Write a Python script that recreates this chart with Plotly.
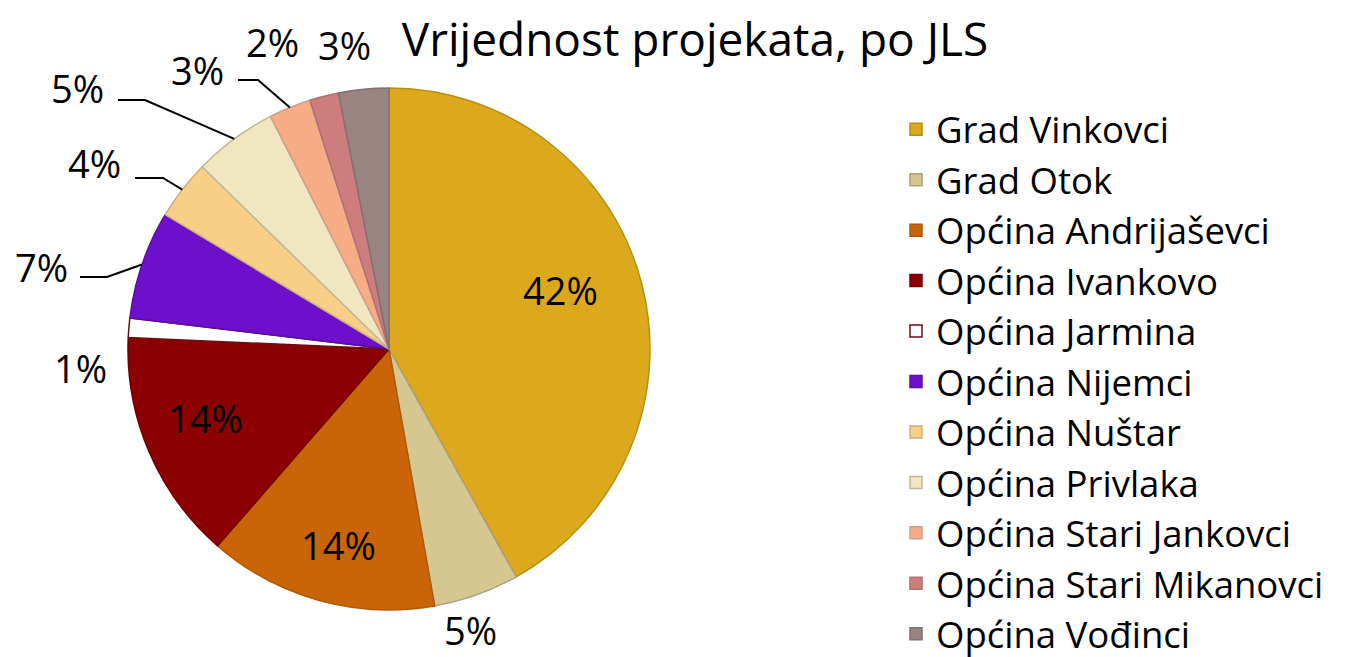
import math
import plotly.graph_objects as go

# ---- data ----
categories = ["Grad Vinkovci", "Grad Otok", "Općina Andrijaševci", "Općina Ivankovo",
              "Općina Jarmina", "Općina Nijemci", "Općina Nuštar", "Općina Privlaka",
              "Općina Stari Jankovci", "Općina Stari Mikanovci", "Općina Vođinci"]
values = [41.9, 5.3, 14.2, 14.3, 1.2, 6.7, 3.7, 5.2, 2.6, 1.8, 3.1]
colors = ["#DDA91C", "#D5C78F", "#C96508", "#8B0000", "#FFFFFF", "#6E10CB",
          "#F9CF88", "#F0E6C0", "#F7AC86", "#CD7D7D", "#9A8482"]
line_colors = ["#B8900F", "#A8A080", "#B05A08", "#700000", "#6B1010", "#5A0DA8",
               "#C8B080", "#C0B898", "#C8A090", "#B07070", "#807070"]
title_text = "Vrijednost projekata, po JLS"

# ---- layout helpers (screen pixels -> paper; page body has an 8px margin) ----
W, H = 1355, 657
OFF = 8
CX, CY, R = 389, 349, 261
FONT = "Open Sans"


def px(x):
    return (x - OFF) / W


def py(y):
    return 1 - (y - OFF) / H


total = sum(values)
pct_text = [f"{int(v / total * 100 + 0.5)}%" for v in values]

# label placement (pixel centres) and optional leader elbow (start x, y, elbow x)
label_pos = [(560, 290), (470, 630), (338, 545), (205, 418), (80, 368), (41, 267),
             (94, 163), (77, 88), (197, 70), (272, 42), (344, 45)]
leaders = {5: (80, 277, 107), 6: (135, 178, 163), 7: (118, 100, 145), 8: (238, 80, 258)}

fig = go.Figure(go.Pie(
    labels=categories, values=values, sort=False, direction="clockwise", rotation=0,
    marker=dict(colors=colors, line=dict(color=line_colors, width=1.5)),
    textinfo="none", hoverinfo="label+percent",
    domain=dict(x=[px(CX - R), px(CX + R)], y=[py(CY + R), py(CY - R)]),
))

annotations = []
shapes = []
cum = 0.0
for i, v in enumerate(values):
    mid = (cum + v / 2) / total * 2 * math.pi
    cum += v
    lx, ly = label_pos[i]
    annotations.append(dict(x=px(lx), y=py(ly), xref="paper", yref="paper",
                            text=pct_text[i], showarrow=False,
                            font=dict(family=FONT, size=38, color="#000000"),
                            xanchor="center", yanchor="middle"))
    if i in leaders:
        sx, sy, ex = leaders[i]
        ax_ = CX + R * math.sin(mid)
        ay_ = CY - R * math.cos(mid)
        path = f"M {px(sx)},{py(sy)} L {px(ex)},{py(sy)} L {px(ax_)},{py(ay_)}"
        shapes.append(dict(type="path", path=path, xref="paper", yref="paper",
                           line=dict(color="#000000", width=2)))

fig.update_layout(
    width=W, height=H,
    margin=dict(l=0, r=0, t=0, b=0, autoexpand=False),
    paper_bgcolor="white", plot_bgcolor="white",
    title=dict(text=title_text, x=px(695), y=py(40), xanchor="center", yanchor="middle",
               xref="paper", yref="paper", automargin=False,
               font=dict(family=FONT, size=46, color="#000000")),
    legend=dict(x=px(896), y=py(99), xanchor="left", yanchor="top",
                font=dict(family=FONT, size=36.5, color="#000000"),
                itemwidth=30, traceorder="normal"),
    annotations=annotations,
    shapes=shapes,
)

fig.write_html("out.html")
